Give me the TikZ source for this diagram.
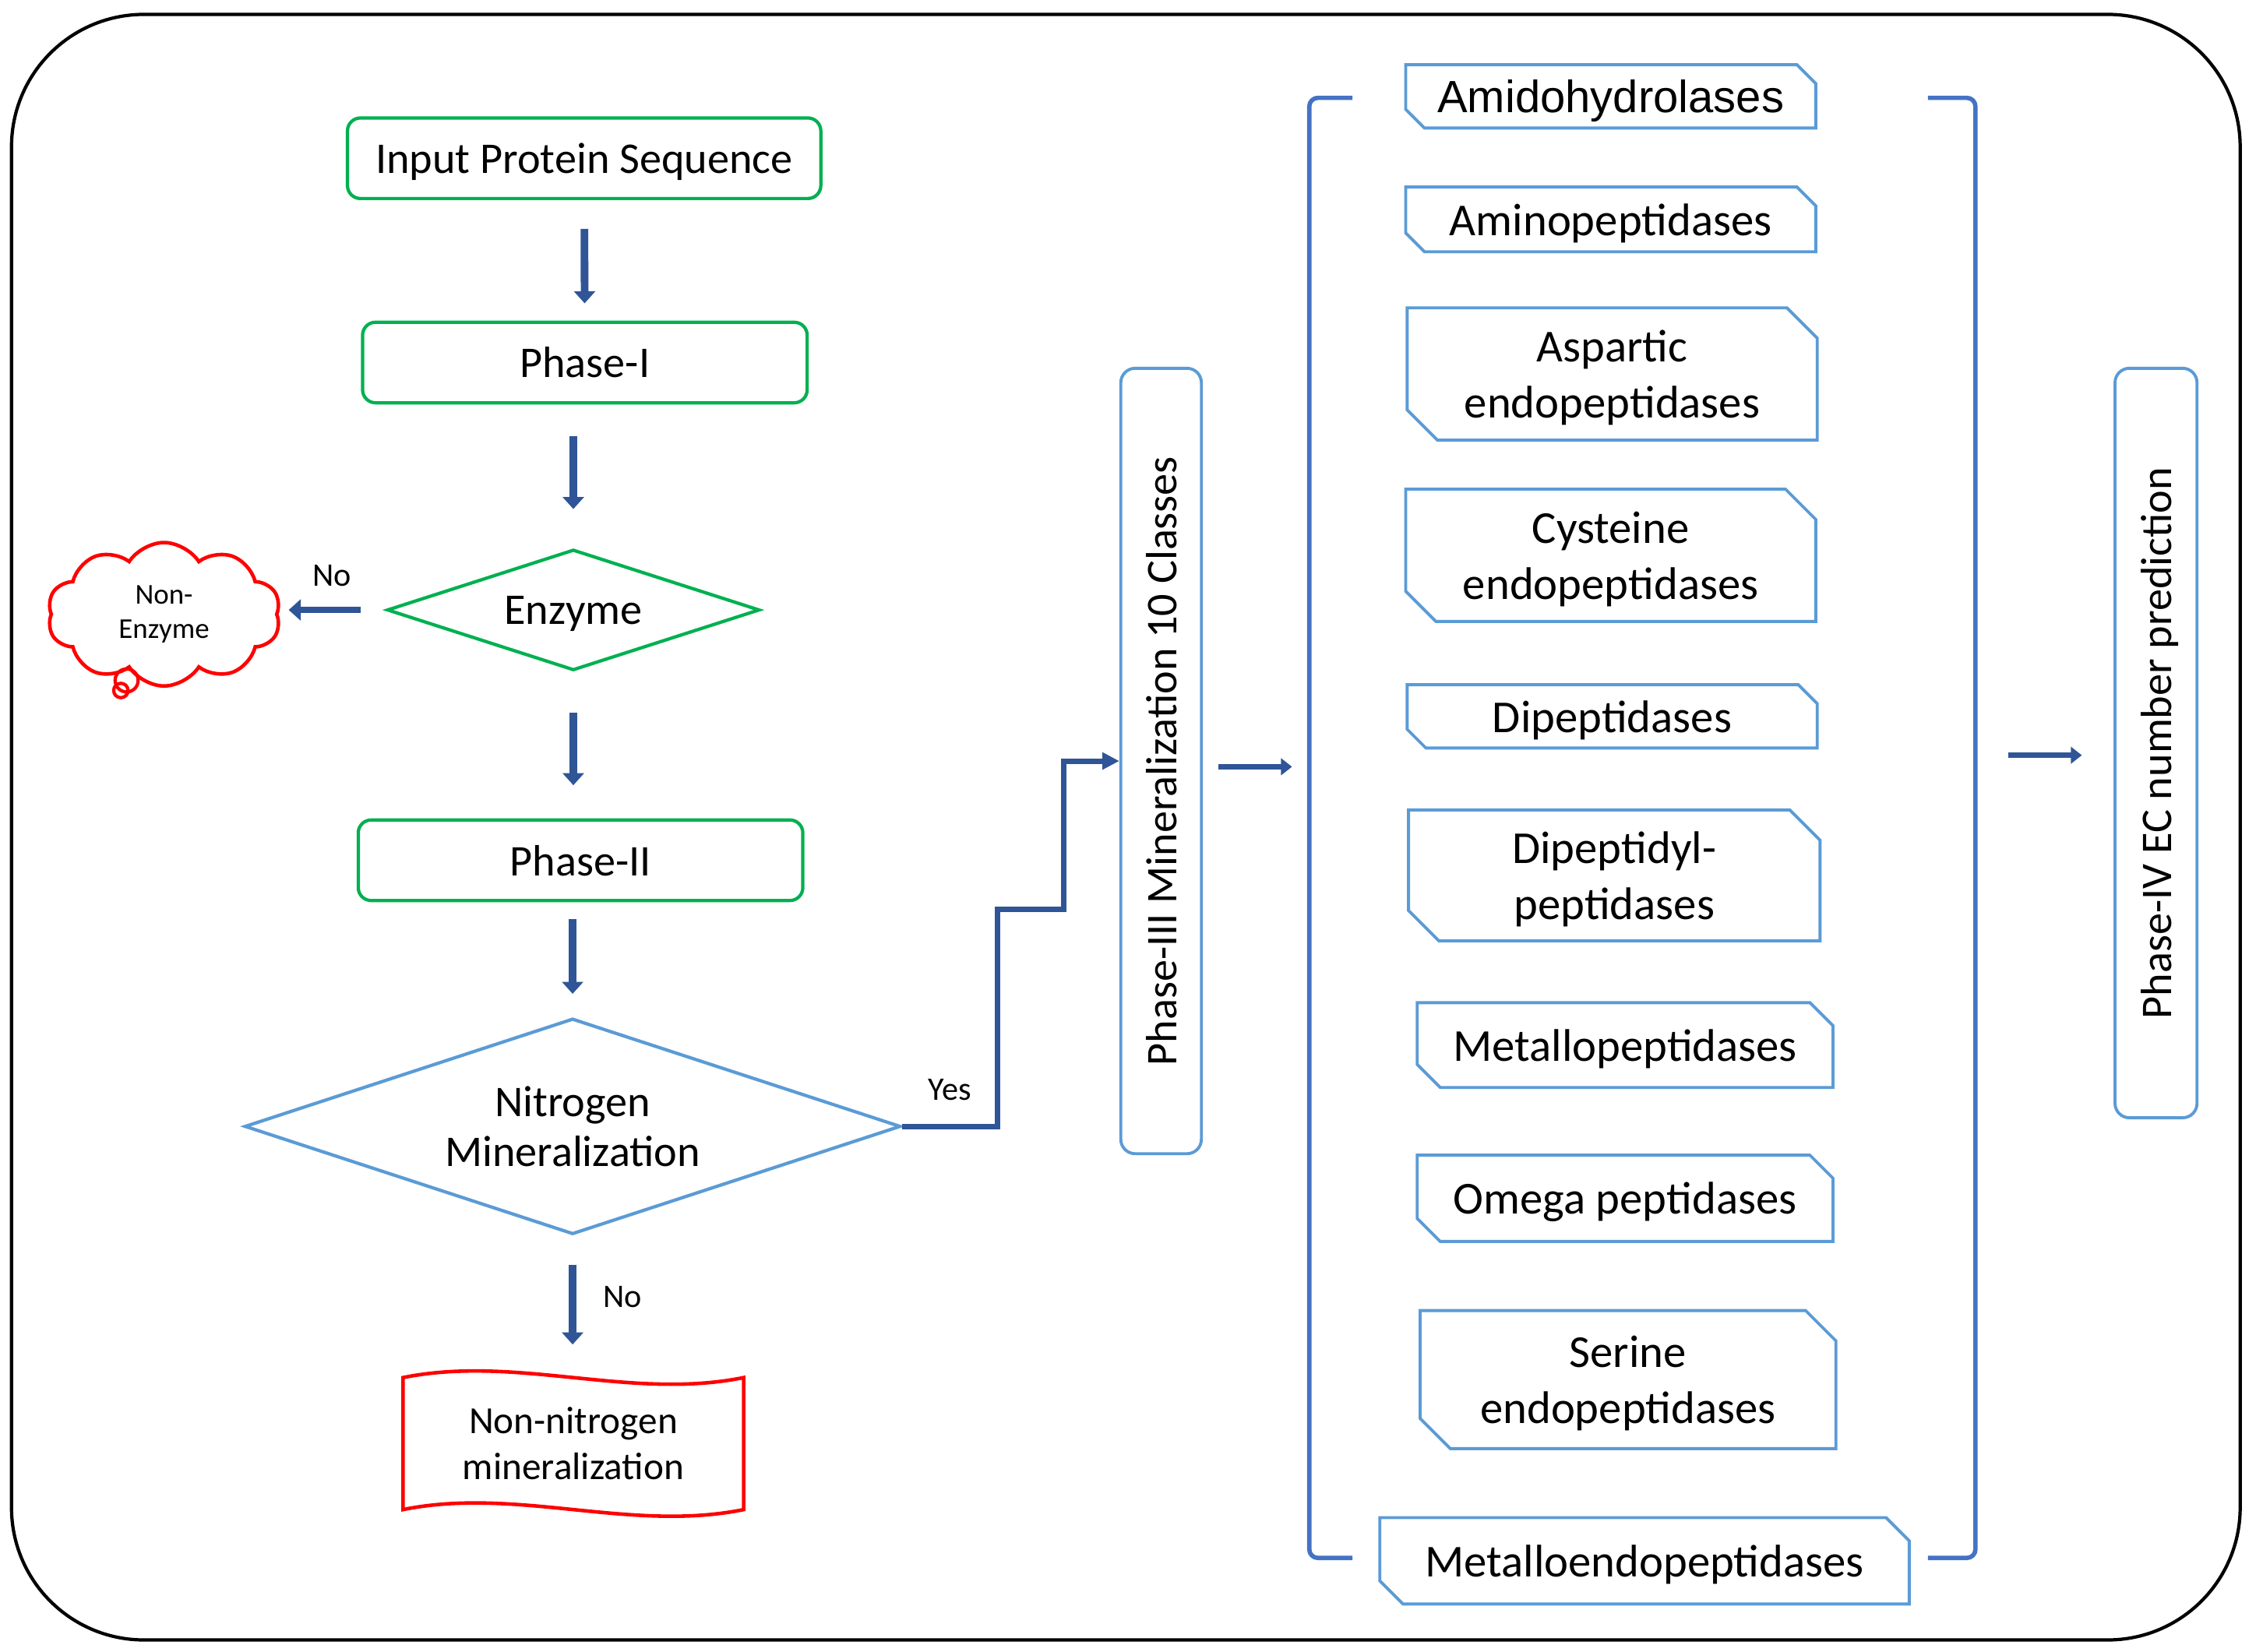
\documentclass[tikz,border=0pt]{standalone}
\usepackage{fontspec}
\setmainfont{Carlito}
\newfontfamily\arialfont{Liberation Sans}
\usetikzlibrary{shapes.geometric, shapes.misc, shapes.symbols, arrows.meta}
\definecolor{flowgreen}{HTML}{00B050}
\definecolor{flowblue}{HTML}{5B9BD5}
\definecolor{bracketblue}{HTML}{4472C4}
\definecolor{arrowblue}{HTML}{2F5597}
\newdimen\dpx
\dpx=0.01847cm
\tikzset{
	flowchartnode/.style = {align=center, inner sep=0pt, text depth=0pt, font=\fontsize{16}{19.5}\selectfont},
	process/.style = {rectangle, rounded corners=9\dpx, flowchartnode, draw=flowgreen, line width=1.2pt, minimum height=56\dpx},
	decision/.style = {diamond, aspect=4, flowchartnode, line width=1.2pt},
	phasebar/.style = {rectangle, rounded corners=10\dpx, rotate=90, flowchartnode, draw=flowblue, line width=1.1pt},
	classbox/.style = {chamfered rectangle, chamfered rectangle corners={north east, south west}, chamfered rectangle xsep=#1, flowchartnode, font=\fontsize{16.7}{20.5}\selectfont, draw=flowblue, line width=1.1pt, minimum width=285\dpx},
	thought/.style = {cloud, cloud puffs=10, cloud puff arc=115, draw=red, line width=1.3pt, align=center, inner sep=0pt, font=\fontsize{10.5}{12.6}\selectfont},
	answer/.style = {inner sep=0pt, font=\fontsize{12}{14}\selectfont},
	line/.style = {draw=arrowblue, line width=2.8pt, -{Triangle[width=7.6pt, length=4.4pt]}},
	thinline/.style = {draw=arrowblue, line width=2pt, -{Triangle[width=6pt, length=4pt]}},
	yesline/.style = {draw=arrowblue, line width=2pt, -{Triangle[width=6pt, length=6.2pt]}},
	bracket/.style = {draw=bracketblue, line width=1.6pt, rounded corners=6\dpx}
}

\begin{document}
\begin{tikzpicture}[x=0.01847cm, y=-0.01847cm]
	\useasboundingbox (0,0) rectangle (1568,1148);
	\draw[line width=1.2pt, rounded corners=1.7cm] (8,10) rectangle (1557,1140);

	%定义左侧流程
	\node (input) [process, minimum width=329\dpx] at (406,110) {Input Protein Sequence};
	\node (phaseone) [process, minimum width=309\dpx] at (406.5,252) {Phase-I};
	\node (enzyme) [decision, draw=flowgreen, minimum width=259\dpx, minimum height=84\dpx] at (398.5,424) {Enzyme};
	\node (nonenzyme) [thought, minimum width=162\dpx, minimum height=89\dpx] at (114,427) {Non-\\Enzyme};
	\node (phasetwo) [process, minimum width=309\dpx] at (403.5,598) {Phase-II};
	\node (nitrogen) [decision, draw=flowblue, minimum width=456\dpx, minimum height=150\dpx, font=\fontsize{16}{18.4}\selectfont] at (398,783) {Nitrogen\\Mineralization};
	\node (nonnitrogen) [minimum width=236\dpx, minimum height=91\dpx, align=center, font=\fontsize{14}{16.8}\selectfont] at (398.5,1003.5) {Non-nitrogen\\mineralization};

	%云朵和波形框
	\draw[red, line width=1.2pt] (88,473) circle[radius=8\dpx] (84,480) circle[radius=5\dpx];
	\draw[red, line width=1.3pt] (nonnitrogen.north west) .. controls +(79,-16) and +(-79,16) .. (nonnitrogen.north east)
		-- (nonnitrogen.south east) .. controls +(-79,16) and +(79,-16) .. (nonnitrogen.south west) -- cycle;

	%定义右侧阶段
	\node (phasethree) [phasebar, minimum width=546\dpx, minimum height=56\dpx] at (807,529) {Phase-III Mineralization 10 Classes};
	\node (phasefour) [phasebar, minimum width=521\dpx, minimum height=57\dpx] at (1498.5,516.5) {Phase-IV EC number prediction};

	%十个类别
	\node (amido) [classbox=7\dpx, minimum height=44\dpx, font=\arialfont\fontsize{16.5}{19.5}\selectfont] at (1119.5,67) {Amidohydrolases};
	\node (amino) [classbox=7\dpx, minimum height=45\dpx] at (1119.5,152.5) {Aminopeptidases};
	\node (aspartic) [classbox=15\dpx, minimum height=92\dpx] at (1120.5,260) {Aspartic\\endopeptidases};
	\node (cysteine) [classbox=15\dpx, minimum height=92\dpx] at (1119.5,386) {Cysteine\\endopeptidases};
	\node (dipep) [classbox=7\dpx, minimum height=44\dpx] at (1120.5,498) {Dipeptidases};
	\node (dipeptidyl) [classbox=15\dpx, minimum width=286\dpx, minimum height=91\dpx] at (1122,608.5) {Dipeptidyl-\\peptidases};
	\node (metallo) [classbox=10\dpx, minimum width=289\dpx, minimum height=59\dpx] at (1129.5,726.5) {Metallopeptidases};
	\node (omega) [classbox=10\dpx, minimum width=289\dpx, minimum height=60\dpx] at (1129.5,833) {Omega peptidases};
	\node (serine) [classbox=15\dpx, minimum width=289\dpx, minimum height=96\dpx] at (1131.5,959) {Serine\\endopeptidases};
	\node (metalloendo) [classbox=10\dpx, minimum width=368\dpx, minimum height=60\dpx] at (1143,1085) {Metalloendopeptidases};

	%括号
	\draw[bracket] (940,68) -- (910,68) -- (910,1083) -- (940,1083);
	\draw[bracket] (1340,68) -- (1373,68) -- (1373,1083) -- (1340,1083);
	\coordinate (leftbracket) at (910,533);
	\coordinate (rightbracket) at (1373,525);

	%连接具体形状
	\path [line, shorten <=20\dpx, shorten >=12\dpx] (input) -- (phaseone);
	\path [line, shorten <=22\dpx, shorten >=27\dpx] (enzyme |- phaseone.south) -- (enzyme.north);
	\path [line, shorten <=28\dpx, shorten >=23\dpx] (enzyme.south) -- (enzyme.south |- phasetwo.north);
	\path [line, shorten <=12\dpx, shorten >=16\dpx] (nitrogen |- phasetwo.south) -- (nitrogen.north);
	\path [line, shorten <=20\dpx, shorten >=23\dpx] (nitrogen.south) -- node[answer, right=9.7pt, yshift=3.5pt] {No} (nitrogen.south |- nonnitrogen.north);
	\path [line, line width=2.4pt, shorten <=17\dpx, shorten >=7\dpx] (enzyme.west) -- node[answer, above=7.5pt] {No} (enzyme.west -| nonenzyme.east);
	\path [yesline] (nitrogen.east) -- node[answer, above=8.5pt] {Yes} ++(66,0) |- ++(46,-151) |- (phasethree.north);
	\path [thinline, shorten <=11\dpx, shorten >=12\dpx] (phasethree.south |- leftbracket) -- (leftbracket);
	\path [thinline, shorten <=23\dpx, shorten >=22\dpx] (rightbracket) -- (rightbracket -| phasefour.north);
\end{tikzpicture}
\end{document}
